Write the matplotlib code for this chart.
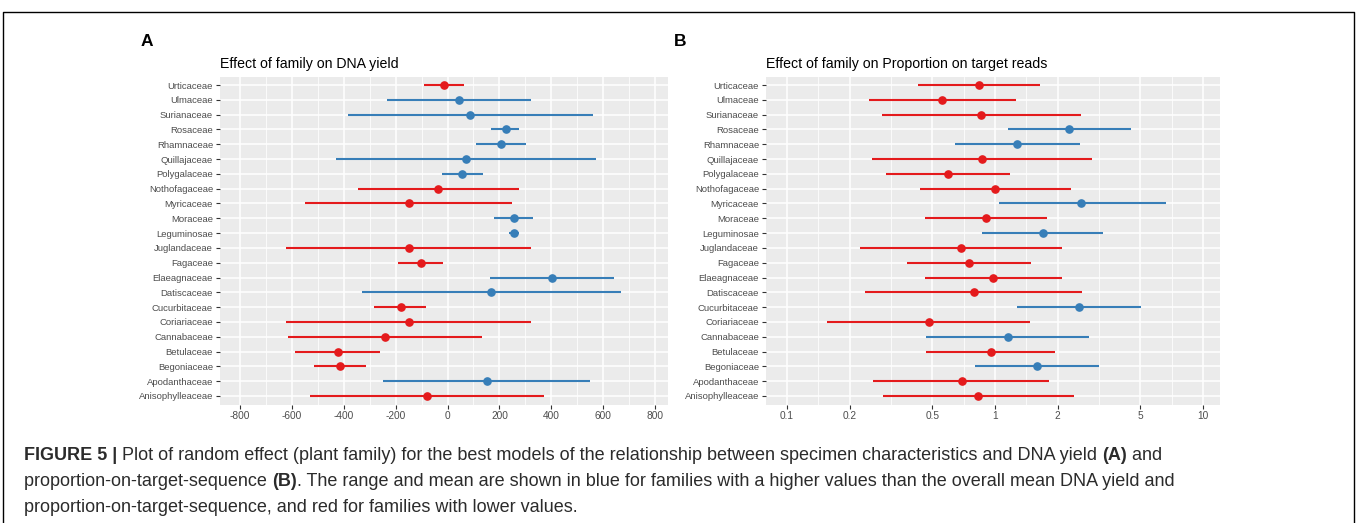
import numpy as np
import matplotlib
matplotlib.use("Agg")
import matplotlib.pyplot as plt

plt.rcParams["font.family"] = ["Liberation Sans", "DejaVu Sans"]

# Families, bottom row first
families = ["Anisophylleaceae", "Apodanthaceae", "Begoniaceae", "Betulaceae", "Cannabaceae",
            "Coriariaceae", "Cucurbitaceae", "Datiscaceae", "Elaeagnaceae", "Fagaceae",
            "Juglandaceae", "Leguminosae", "Moraceae", "Myricaceae", "Nothofagaceae",
            "Polygalaceae", "Quillajaceae", "Rhamnaceae", "Rosaceae", "Surianaceae",
            "Ulmaceae", "Urticaceae"]

# Panel A: effect on DNA yield
yield_mean = [-80, 152, -415, -424, -241, -149, -181, 167, 404, -104, -149, 257, 256, -149,
              -35, 57, 71, 207, 224, 87, 44, -15]
yield_lo = [-531, -247, -513, -588, -613, -623, -285, -329, 165, -191, -623, 237, 181, -549,
            -345, -23, -428, 111, 169, -385, -233, -91]
yield_hi = [371, 551, -316, -259, 132, 321, -81, 667, 643, -19, 321, 277, 329, 249,
            275, 137, 571, 304, 276, 561, 320, 63]

# Panel B: effect on proportion on target reads
prop_mean = [0.831, 0.690, 1.591, 0.953, 1.152, 0.479, 2.546, 0.794, 0.983, 0.749, 0.684,
             1.693, 0.906, 2.587, 1.0, 0.595, 0.867, 1.28, 2.275, 0.858, 0.557, 0.835]
prop_lo = [0.288, 0.259, 0.80, 0.468, 0.468, 0.155, 1.275, 0.238, 0.459, 0.379, 0.2236,
           0.861, 0.459, 1.04, 0.438, 0.30, 0.257, 0.645, 1.157, 0.286, 0.248, 0.425]
prop_hi = [2.393, 1.823, 3.166, 1.948, 2.818, 1.478, 5.05, 2.61, 2.10, 1.49, 2.088,
           3.30, 1.78, 6.62, 2.31, 1.18, 2.94, 2.55, 4.49, 2.58, 1.26, 1.654]

yield_ticks = [-800, -600, -400, -200, 0, 200, 400, 600, 800]
prop_ticks = [0.1, 0.2, 0.5, 1, 2, 5, 10]
prop_tick_labels = ["0.1", "0.2", "0.5", "1", "2", "5", "10"]

RED = "#E41A1C"
BLUE = "#377EB8"
W, H = 1357, 523

fig = plt.figure(figsize=(W / 100, H / 100), dpi=100)


def style_panel(ax, title):
    ax.set_facecolor("#EBEBEB")
    for s in ax.spines.values():
        s.set_visible(False)
    ax.grid(which="major", color="white", linewidth=1.1)
    ax.grid(which="minor", color="white", linewidth=0.55)
    ax.set_axisbelow(True)
    ax.tick_params(which="major", colors="#333333", labelcolor="#4D4D4D",
                   labelsize=6.8, length=3, width=0.8, pad=2)
    ax.tick_params(axis="x", which="major", labelsize=7.3)
    ax.tick_params(which="minor", length=0)
    ax.set_ylim(-0.58, len(families) - 0.42)
    ax.set_yticks(range(len(families)))
    ax.set_yticklabels(families)
    ax.set_title(title, loc="left", fontsize=10.2, pad=6, color="black")


def draw_ranges(ax, mean, lo, hi, ref):
    ys = np.arange(len(families))
    for y, m, a, b in zip(ys, mean, lo, hi):
        c = BLUE if m > ref else RED
        ax.plot([a, b], [y, y], color=c, linewidth=1.5, solid_capstyle="butt", zorder=2)
        ax.plot(m, y, "o", color=c, markersize=5.2, zorder=3)


# Panel A
axA = fig.add_axes([220 / W, 1 - 404.5 / H, 448 / W, 328 / H])
style_panel(axA, "Effect of family on DNA yield")
draw_ranges(axA, yield_mean, yield_lo, yield_hi, 0)
axA.set_xlim(-877, 850)
axA.set_xticks(yield_ticks)
axA.set_xticklabels([str(t) for t in yield_ticks])
axA.set_xticks([-700, -500, -300, -100, 100, 300, 500, 700], minor=True)

# Panel B
axB = fig.add_axes([766 / W, 1 - 404.5 / H, 454 / W, 328 / H])
style_panel(axB, "Effect of family on Proportion on target reads")
draw_ranges(axB, prop_mean, prop_lo, prop_hi, 1)
axB.set_xscale("log")
axB.set_xlim(0.0792, 12.07)
axB.set_xticks(prop_ticks)
axB.set_xticklabels(prop_tick_labels)
minor = [np.sqrt(a * b) for a, b in zip(prop_ticks[:-1], prop_ticks[1:])]
axB.set_xticks(minor, minor=True)
axB.xaxis.set_minor_formatter(matplotlib.ticker.NullFormatter())

# Panel letters
fig.text(147 / W, 1 - 41 / H, "A", fontsize=12.5, fontweight="bold", va="center", ha="center")
fig.text(680 / W, 1 - 41 / H, "B", fontsize=12.5, fontweight="bold", va="center", ha="center")

# Frame around the figure
frame = fig.add_axes([0, 0, 1, 1], facecolor="none")
frame.set_xlim(0, W)
frame.set_ylim(H, 0)
frame.axis("off")
frame.plot([3, 3, 1354, 1354], [H + 5, 12, 12, H + 5], color="black", linewidth=1.0)

# Caption with bold parts
caption = [
    [("FIGURE 5 | ", True), ("Plot of random effect (plant family) for the best models of the relationship "
                            "between specimen characteristics and DNA yield ", False), ("(A)", True), (" and", False)],
    [("proportion-on-target-sequence ", False), ("(B)", True),
     (". The range and mean are shown in blue for families with a higher values than the overall mean "
      "DNA yield and", False)],
    [("proportion-on-target-sequence, and red for families with lower values.", False)],
]
line_y = [456, 482, 508]
for parts, yy in zip(caption, line_y):
    prev = None
    for txt, bold in parts:
        kw = dict(fontsize=13, fontweight="bold" if bold else "normal",
                  color="#2B2B2B", va="center", ha="left", annotation_clip=False)
        if prev is None:
            prev = frame.annotate(txt, xy=(24, yy), xycoords="data", **kw)
        else:
            prev = frame.annotate(txt, xy=(1, 0.5), xycoords=prev, **kw)

fig.savefig("out.png", dpi=100)
